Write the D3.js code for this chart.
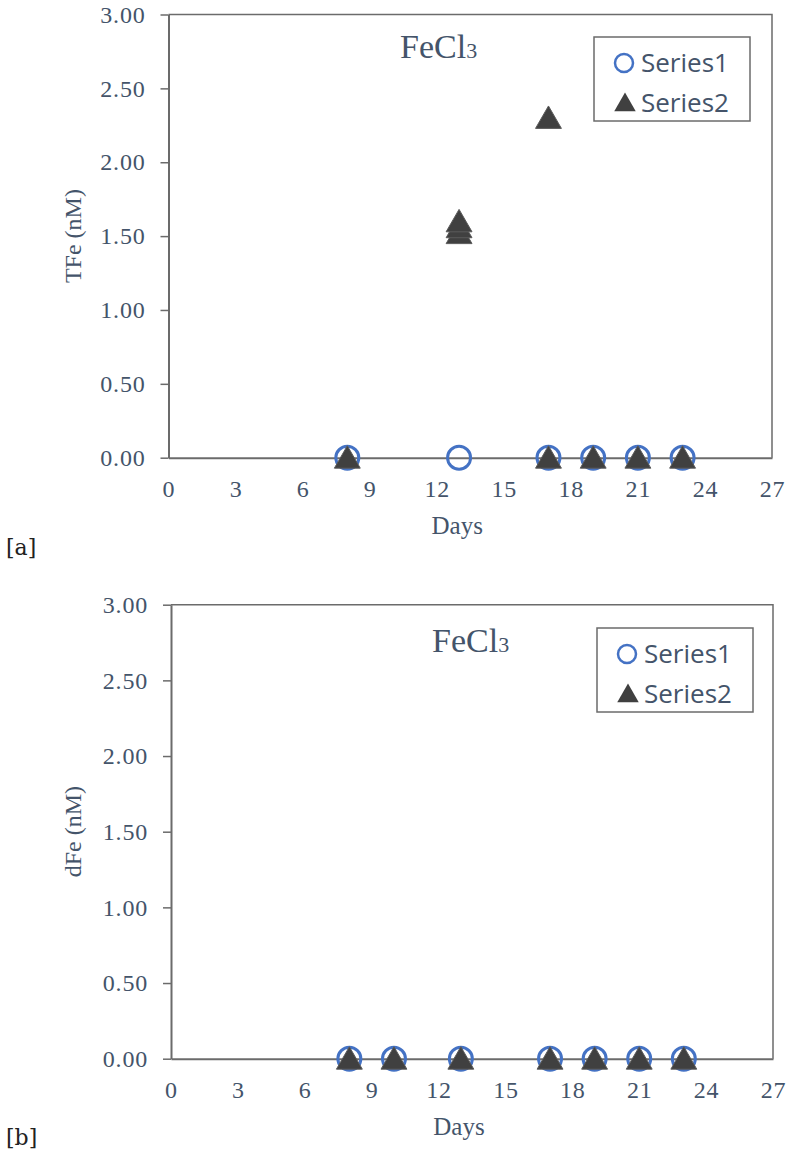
<!DOCTYPE html>
<html>
<head>
<meta charset="utf-8">
<script src="https://d3js.org/d3.v7.min.js"></script>
<style>
  * { margin: 0; padding: 0; }
  html, body { width: 788px; height: 1169px; background: #fff; overflow: hidden; }
  svg { display: block; }
  .serif { font-family: 'Liberation Serif', 'Times New Roman', Times, serif; }
</style>
</head>
<body>
<div id="chart"></div>
<script>
// x ticks (days) and y ticks (nM)
const dayTicks = [0, 3, 6, 9, 12, 15, 18, 21, 24, 27];
const concTicks = [0, 0.5, 1, 1.5, 2, 2.5, 3];
const seriesNames = ['Series1', 'Series2'];

// panel a: TFe
const tfeS1Days = [8, 13, 17, 19, 21, 23];
const tfeS1Vals = [0, 0, 0, 0, 0, 0];
const tfeS2Days = [8, 13, 13, 13, 17, 17, 19, 21, 23];
const tfeS2Vals = [0, 1.52, 1.56, 1.60, 2.30, 0, 0, 0, 0];

// panel b: dFe
const dfeS1Days = [8, 10, 13, 17, 19, 21, 23];
const dfeS1Vals = [0, 0, 0, 0, 0, 0, 0];
const dfeS2Days = [8, 10, 13, 17, 19, 21, 23];
const dfeS2Vals = [0, 0, 0, 0, 0, 0, 0];

const textColor = '#44546A';
const axisColor = '#6b6b6b';
const blue = '#4472C4';
const dark = '#404040';

const svg = d3.select('#chart').append('svg')
  .attr('width', 788).attr('height', 1169);

const zip = (xs, ys) => xs.map((x, i) => ({ x: x, y: ys[i] }));

function drawPanel(opt) {
  const x = d3.scaleLinear().domain([0, 27]).range([opt.left, opt.right]);
  const y = d3.scaleLinear().domain([0, 3]).range([opt.bottom, opt.top]);
  const g = svg.append('g');

  // frame (top + right)
  g.append('path')
    .attr('d', `M${opt.left},${opt.top}H${opt.right}V${opt.bottom}`)
    .attr('fill', 'none').attr('stroke', axisColor).attr('stroke-width', 1.5);

  // y axis
  const yAxis = g.append('g')
    .attr('transform', `translate(${opt.left},0)`)
    .call(d3.axisLeft(y).tickValues(concTicks).tickFormat(d3.format('.2f'))
      .tickSize(8).tickSizeOuter(0).tickPadding(15));
  yAxis.attr('font-family', null).attr('font-size', null);
  yAxis.select('.domain').attr('stroke', axisColor).attr('stroke-width', 2);
  yAxis.selectAll('.tick line').attr('stroke', axisColor).attr('stroke-width', 1.5);
  yAxis.selectAll('.tick text')
    .attr('class', 'serif')
    .attr('fill', textColor)
    .style('font-size', '24px').style('letter-spacing', '0.8px');

  // x axis
  const xAxis = g.append('g')
    .attr('transform', `translate(0,${opt.bottom})`)
    .call(d3.axisBottom(x).tickValues(dayTicks).tickSize(0).tickSizeOuter(0).tickPadding(22));
  xAxis.attr('font-family', null).attr('font-size', null);
  xAxis.select('.domain').attr('stroke', axisColor).attr('stroke-width', 2);
  xAxis.selectAll('.tick text')
    .attr('class', 'serif')
    .attr('fill', textColor)
    .style('font-size', '24px').style('letter-spacing', '0.8px');

  // axis titles
  g.append('text').attr('class', 'serif')
    .attr('x', (opt.left + opt.right) / 2 - 13)
    .attr('y', opt.bottom + 76)
    .attr('text-anchor', 'middle')
    .attr('fill', textColor)
    .style('font-size', '25px')
    .text('Days');

  g.append('text').attr('class', 'serif')
    .attr('transform', `translate(81,${(opt.top + opt.bottom) / 2}) rotate(-90)`)
    .attr('text-anchor', 'middle')
    .attr('fill', textColor)
    .style('font-size', '24px')
    .text(opt.ylabel);

  // chart title FeCl3
  const t = g.append('text').attr('class', 'serif')
    .attr('x', opt.titleX).attr('y', opt.titleY)
    .attr('fill', textColor)
    .style('font-size', '34px');
  t.append('tspan').text('FeCl');
  t.append('tspan').style('font-size', '22px').text('3');

  // series 1: open circles
  g.selectAll('circle.s1').data(zip(opt.s1Days, opt.s1Vals)).enter()
    .append('circle').attr('class', 's1')
    .attr('cx', d => x(d.x)).attr('cy', d => y(d.y)).attr('r', 11.5)
    .attr('fill', 'none').attr('stroke', blue).attr('stroke-width', 3);

  // series 2: filled triangles
  const tri = d3.symbol().type(d3.symbolTriangle).size(290);
  g.selectAll('path.s2').data(zip(opt.s2Days, opt.s2Vals)).enter()
    .append('path').attr('class', 's2')
    .attr('d', tri)
    .attr('transform', d => `translate(${x(d.x)},${y(d.y) + 3})`)
    .attr('fill', dark).attr('stroke', '#5a5a5a').attr('stroke-width', 1);

  // legend
  const L = opt.legend;
  g.append('rect')
    .attr('x', L.x).attr('y', L.y).attr('width', 156).attr('height', 84)
    .attr('fill', '#fff').attr('stroke', axisColor).attr('stroke-width', 1.5);
  seriesNames.forEach((name, i) => {
    const cy = L.y + 26 + i * 40;
    if (i === 0) {
      g.append('circle').attr('cx', L.x + 30).attr('cy', cy).attr('r', 9)
        .attr('fill', 'none').attr('stroke', blue).attr('stroke-width', 2.5);
    } else {
      g.append('path').attr('d', d3.symbol().type(d3.symbolTriangle).size(200))
        .attr('transform', `translate(${L.x + 31},${cy + 2})`)
        .attr('fill', dark);
    }
    g.append('text')
      .attr('x', L.x + 47).attr('y', cy + 9)
      .attr('fill', textColor)
      .style('font-family', '"Open Sans", "Liberation Sans", sans-serif')
      .style('font-size', '26px')
      .text(name);
  });
}

drawPanel({
  left: 168.5, right: 772, top: 14.5, bottom: 457.7,
  ylabel: 'TFe (nM)', titleX: 400, titleY: 58,
  s1Days: tfeS1Days, s1Vals: tfeS1Vals, s2Days: tfeS2Days, s2Vals: tfeS2Vals,
  legend: { x: 594, y: 37 }
});

drawPanel({
  left: 171, right: 773, top: 604.7, bottom: 1058.7,
  ylabel: 'dFe (nM)', titleX: 432, titleY: 652,
  s1Days: dfeS1Days, s1Vals: dfeS1Vals, s2Days: dfeS2Days, s2Vals: dfeS2Vals,
  legend: { x: 597, y: 628 }
});

// panel tags
svg.append('text').attr('x', 6).attr('y', 555)
  .attr('fill', '#222')
  .style('font-family', '"DejaVu Serif", serif').style('font-size', '22px')
  .text('[a]');
svg.append('text').attr('x', 6).attr('y', 1145)
  .attr('fill', '#222')
  .style('font-family', '"DejaVu Serif", serif').style('font-size', '22px')
  .text('[b]');
</script>
</body>
</html>
